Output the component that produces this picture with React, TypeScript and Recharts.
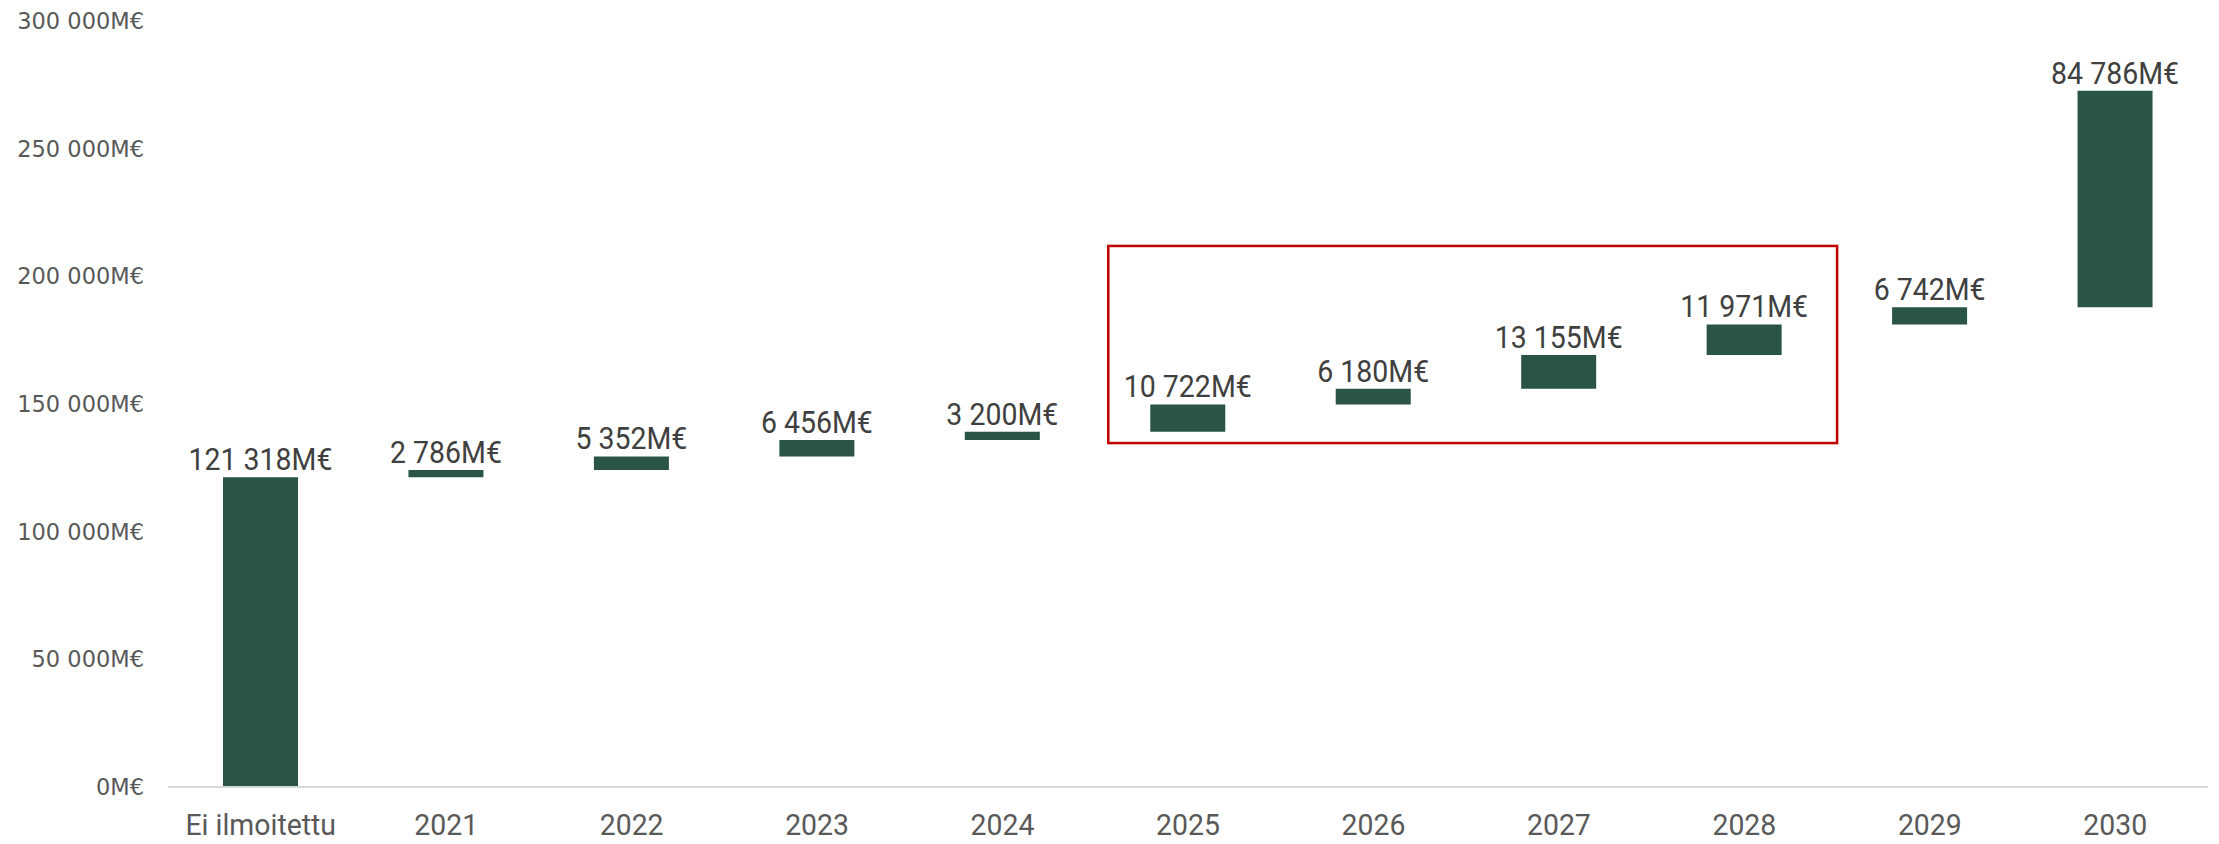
import React from "react"
import { BarChart, Bar, XAxis, YAxis, LabelList, ReferenceArea } from "recharts"

// Waterfall: each step's start (hidden) and its size
const categories = ["Ei ilmoitettu", "2021", "2022", "2023", "2024", "2025", "2026", "2027", "2028", "2029", "2030"]
const steps = [121318, 2786, 5352, 6456, 3200, 10722, 6180, 13155, 11971, 6742, 84786]
const yTicks = [0, 50000, 100000, 150000, 200000, 250000, 300000]

// highlighted range (red frame)
const highlightFrom = "2025"
const highlightTo = "2028"
const highlightLow = 134700
const highlightHigh = 211900

const GREEN = "#2a5446"
const FONT = "Roboto, sans-serif"

const fmt = (n: number) => String(Math.round(n)).replace(/\B(?=(\d{3})+(?!\d))/g, " ") + "M€"

let running = 0
const data = categories.map((name, i) => {
  const base = running
  running += steps[i]
  return { name, base, delta: steps[i] }
})

// condensed-looking text, like the original's narrow font
const ValueLabel = (props: any) => {
  const { x, y, width, value } = props
  const cx = x + width / 2
  return (
    <text
      transform={`translate(${cx},${y - 7}) scale(0.89,1)`}
      textAnchor="middle"
      fill="#404040"
      fontSize={32}
      fontFamily={FONT}
    >
      {fmt(Number(value))}
    </text>
  )
}

const XTick = (props: any) => {
  const { x, y, payload } = props
  return (
    <text
      transform={`translate(${x},${y + 46}) scale(0.98,1)`}
      textAnchor="middle"
      fill="#595959"
      fontSize={29}
      fontFamily={FONT}
    >
      {payload.value}
    </text>
  )
}

const Frame = (props: any) => {
  const { x, y, width, height } = props
  return <rect x={x + 13} y={y} width={width - 13} height={height} fill="none" stroke="#c00000" strokeWidth={2.5} />
}

export default function App() {
  return (
    <div style={{ position: "absolute", left: 0, top: 0, width: 2219, height: 844, background: "#fff" }}>
      <BarChart
        width={2219}
        height={844}
        data={data}
        margin={{ top: 21, right: 11, left: 0, bottom: 0 }}
        barSize={75}
      >
        <XAxis
          dataKey="name"
          height={57}
          tickLine={false}
          tickSize={0}
          axisLine={{ stroke: "#d9d9d9", strokeWidth: 2 }}
          tick={<XTick />}
          interval={0}
        />
        <YAxis
          width={168}
          domain={[0, 300000]}
          ticks={yTicks}
          tickFormatter={fmt}
          axisLine={false}
          tickLine={false}
          tickSize={0}
          tickMargin={24}
          tick={{ fill: "#595959", fontSize: 22.5, fontFamily: "'DejaVu Sans', sans-serif" }}
        />
        <ReferenceArea
          x1={highlightFrom}
          x2={highlightTo}
          y1={highlightLow}
          y2={highlightHigh}
          ifOverflow="visible"
          shape={<Frame />}
        />
        <Bar dataKey="base" stackId="w" fill="transparent" isAnimationActive={false} />
        <Bar dataKey="delta" stackId="w" fill={GREEN} isAnimationActive={false}>
          <LabelList dataKey="delta" content={<ValueLabel />} />
        </Bar>
      </BarChart>
    </div>
  )
}
